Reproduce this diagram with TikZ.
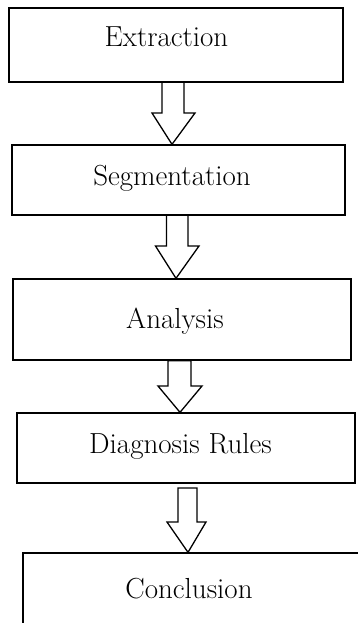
\documentclass[tikz,border=0pt]{standalone}
\begin{document}
\begin{tikzpicture}[x=1pt,y=-1pt,
  box/.style={draw, line width=1.3pt, inner sep=0pt},
  lbl/.style={anchor=base, inner sep=0pt, font=\fontsize{29}{32}\selectfont},
  blockarrow/.style={draw, line width=1.3pt, line join=miter}]
\useasboundingbox (0,0) rectangle (357,623);
\node[box, minimum width=334pt, minimum height=74pt] (b1) at (176,45) {};
\node[box, minimum width=333pt, minimum height=70pt] (b2) at (178.5,180) {};
\node[box, minimum width=338pt, minimum height=81pt] (b3) at (182,319.5) {};
\node[box, minimum width=338pt, minimum height=70pt] (b4) at (186,448) {};
\node[box, minimum width=377pt, minimum height=147pt] (b5) at (211.5,626.5) {};
\node[lbl] (t1) at (166.5,47) {Extraction};
\node[lbl] (t2) at (172,185) {Segmentation};
\node[lbl] (t3) at (175,328) {Analysis};
\node[lbl] (t4) at (180.5,453) {Diagnosis Rules};
\node[lbl] (t5) at (189,598) {Conclusion};
% arrow 1
\draw[blockarrow] (162,0 |- b1.south) -- (162,113) -- (152,113) -- (172,0 |- b2.north)
  -- (195,113) -- (184,113) -- (184,0 |- b1.south);
% arrow 2
\draw[blockarrow] (166.5,0 |- b2.south) -- (166.5,246) -- (155.5,246) -- (176,0 |- b3.north)
  -- (199,246) -- (188,246) -- (188,0 |- b2.south);
% arrow 3
\draw[blockarrow] (168,0 |- b3.south) -- (168,386) -- (158,386) -- (180,0 |- b4.north)
  -- (202,386) -- (191,386) -- (191,0 |- b3.south) -- cycle;
% arrow 4
\draw[blockarrow] (178,488) -- (178,522) -- (167,522) -- (188,0 |- b5.north)
  -- (206,522) -- (197,522) -- (197,488) -- cycle;
\end{tikzpicture}
\end{document}
